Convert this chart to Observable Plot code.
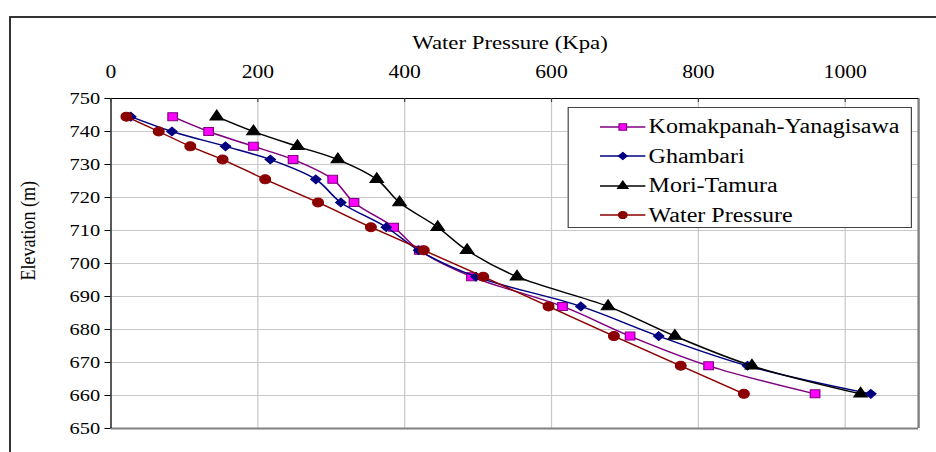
<!DOCTYPE html>
<html><head><meta charset="utf-8">
<script src="https://cdn.jsdelivr.net/npm/d3@7"></script>
<script src="https://cdn.jsdelivr.net/npm/@observablehq/plot@0.6"></script>
<style>
html,body{margin:0;padding:0;background:#fff;overflow:hidden;width:936px;height:452px;}
#outer{position:absolute;left:9px;top:16px;width:1000px;height:1000px;border-left:2px solid #333;border-top:2px solid #333;}
#wrap{position:absolute;left:0;top:0;width:780px;height:452px;transform:scale(1.2,1);transform-origin:0 0;}
#legend{position:absolute;left:472.5px;top:107px;width:287px;height:121px;border:1px solid #444;background:#fff;box-sizing:border-box;font-family:"Liberation Serif","Times New Roman",serif;font-size:20px;color:#000;}
.row{position:absolute;left:0;height:26px;display:flex;align-items:center;white-space:nowrap;}
.row svg{margin-left:26px;margin-right:3px;}
</style></head><body>
<div id="outer"></div>
<div id="wrap"><div id="chart"></div><div id="legend"></div></div>
<script>
// Elevation levels (m)
const elevation = [744.5, 740, 735.5, 731.5, 725.5, 718.5, 711, 704, 696, 687, 678, 669, 660.5];
// Water pressure (Kpa) per series
const komakpanahYanagisawa = [84, 133, 194, 248, 302, 331, 385, 420, 491, 615, 707, 814, 959];
const ghambari = [27, 83, 156, 217, 279, 313, 375, 419, 497, 640, 746, 867, 1035];
const moriTamura = [144, 194, 254, 309, 362, 393, 445, 485, 553, 677, 768, 873, 1021];
const waterPressure = [21, 65, 108, 152, 210, 282, 354, 426, 507, 596, 685, 776, 862];

const seriesNames = ["Komakpanah-Yanagisawa", "Ghambari", "Mori-Tamura", "Water Pressure"];
const seriesValues = [komakpanahYanagisawa, ghambari, moriTamura, waterPressure];
const lineColors = ["#800080", "#000080", "#000000", "#8B0000"];
const markerFills = ["#FF00FF", "#000080", "#000000", "#8B0000"];
const markerStrokes = ["#800080", "#000080", "#000000", "#8B0000"];
const markerSymbols = ["square", "diamond2", "triangle", "circle"];
const markerSizes = [4.5, 3.9, 4.2, 4.5];

const xTicks = [0, 200, 400, 600, 800, 1000];
const yTicks = [650, 660, 670, 680, 690, 700, 710, 720, 730, 740, 750];

const rows = [];
seriesNames.forEach((s, i) => seriesValues[i].forEach((v, j) => rows.push({series: s, pressure: v, elevation: elevation[j]})));

const seriesMarks = seriesNames.flatMap((s, i) => {
  const d = rows.filter(r => r.series === s);
  return [
    Plot.line(d, {x: "pressure", y: "elevation", stroke: lineColors[i], strokeWidth: 1.4, curve: "catmull-rom"}),
    Plot.dot(d, {x: "pressure", y: "elevation", symbol: markerSymbols[i], r: markerSizes[i], fill: markerFills[i], stroke: markerStrokes[i], strokeWidth: 1})
  ];
});

const chart = Plot.plot({
  width: 780,
  height: 452,
  marginLeft: 92,
  marginRight: 15,
  marginTop: 98,
  marginBottom: 24,
  style: {fontFamily: "'Liberation Serif', 'Times New Roman', serif", fontSize: "16px", color: "#000", background: "transparent"},
  x: {domain: [0, 1100]},
  y: {domain: [650, 750]},
  marks: [
    Plot.gridX(xTicks, {stroke: "#c8c8c8", strokeOpacity: 1}),
    Plot.gridY(yTicks, {stroke: "#c8c8c8", strokeOpacity: 1}),
    Plot.ruleY([650], {stroke: "#808080", strokeWidth: 2}),
    Plot.ruleX([1100], {stroke: "#808080", strokeWidth: 2}),
    Plot.ruleX([0], {stroke: "#000", strokeWidth: 1}),
    Plot.ruleY([750], {stroke: "#000", strokeWidth: 1}),
    Plot.ruleX(xTicks, {y1: 750, y2: 748.8, stroke: "#444"}),
    ...seriesMarks,
    Plot.axisY({ticks: yTicks, tickSize: 5, tickPadding: 4, fontSize: 17, label: null, tickFormat: d => String(d)}),
    Plot.axisX({anchor: "top", ticks: xTicks, tickSize: 0, tickPadding: 21, fontSize: 18, label: null, tickFormat: d => String(d)}),
    Plot.text(["Water Pressure (Kpa)"], {frameAnchor: "top", dx: -4, dy: -50, lineAnchor: "bottom", fontSize: 19}),
    Plot.text(["Elevation (m)"], {frameAnchor: "left", dx: -69, dy: 17, rotate: -90, fontSize: 18})
  ]
});
document.getElementById("chart").appendChild(chart);

// Legend
const legend = document.getElementById("legend");
const rowTops = [18.5, 48, 77.5, 107];
const d3Symbols = {square: d3.symbolSquare, diamond2: d3.symbolDiamond2, triangle: d3.symbolTriangle, circle: d3.symbolCircle};
const legendSizes = [40, 34, 34, 40];
seriesNames.forEach((s, i) => {
  const row = document.createElement("div");
  row.className = "row";
  row.style.top = (rowTops[i] - 13) + "px";
  const w = 38, h = 12;
  const path = d3.symbol(d3Symbols[markerSymbols[i]], legendSizes[i])();
  row.innerHTML = `<svg width="${w}" height="${h}"><line x1="0" x2="${w}" y1="${h/2}" y2="${h/2}" stroke="${lineColors[i]}" stroke-width="1.3"/><path d="${path}" transform="translate(${w/2},${h/2})" fill="${markerFills[i]}" stroke="${markerStrokes[i]}" stroke-width="1"/></svg><span>${s}</span>`;
  legend.appendChild(row);
});
</script>
</body></html>
